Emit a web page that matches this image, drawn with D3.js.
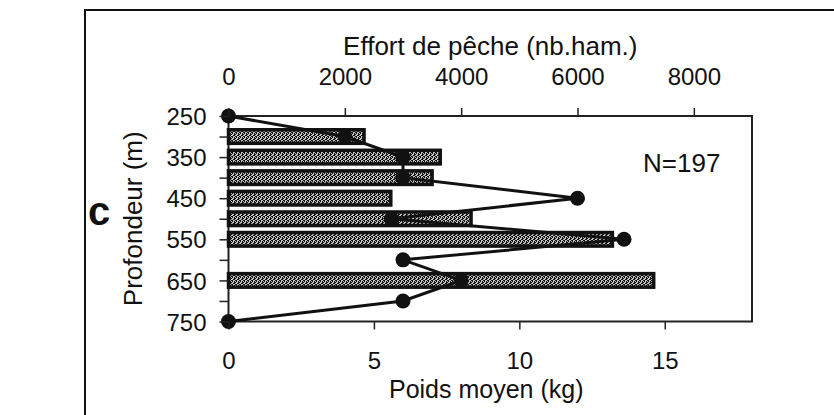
<!DOCTYPE html>
<html>
<head>
<meta charset="utf-8">
<script src="https://cdn.jsdelivr.net/npm/d3@7"></script>
<style>
  body { margin: 0; background: #fff; }
  svg { display: block; }
  text { font-family: "Liberation Sans", Arial, Helvetica, sans-serif; fill: #111; }
</style>
</head>
<body>
<div id="chart"></div>
<script>
// profondeurs (m) des barres d'effort
const effortDepths = [300, 350, 400, 450, 500, 550, 650];
// effort de peche (nb. hamecons)
const effort = [2330, 3640, 3500, 2790, 4170, 6600, 7310];
// profondeurs de la courbe de poids moyen
const weightDepths = [250, 300, 350, 400, 450, 500, 550, 600, 650, 700, 750];
// poids moyen (kg)
const weight = [0, 4.0, 6.0, 6.0, 12.0, 5.6, 13.6, 6.0, 8.0, 6.0, 0];

const effortTicks = [0, 2000, 4000, 6000, 8000];
const weightTicks = [0, 5, 10, 15];
const depthTicks = [250, 300, 350, 400, 450, 500, 550, 600, 650, 700, 750];
const depthLabels = [250, 350, 450, 550, 650, 750];

const width = 834;
const height = 415;
const plot = {left: 228.5, right: 752, top: 116, bottom: 321.5};

const svg = d3.select('#chart')
.append('svg')
.attr('width', width)
.attr('height', height);

// fond tramé des barres
const defs = svg.append('defs');
const pat = defs.append('pattern')
.attr('id', 'grain')
.attr('patternUnits', 'userSpaceOnUse')
.attr('width', 4)
.attr('height', 4);
pat.append('rect').attr('width', 4).attr('height', 4).attr('fill', '#c4c4c4');
[[0, 0, 1, 2], [2, 1, 1, 2], [1, 3, 2, 1], [3, 2, 1, 1], [3, 0, 1, 1]].forEach(p => {
    pat.append('rect')
    .attr('x', p[0]).attr('y', p[1])
    .attr('width', p[2]).attr('height', p[3])
    .attr('fill', '#111');
});

// cadre de la figure
svg.append('path')
.attr('d', `M85,415 L85,10 L834,10`)
.attr('fill', 'none')
.attr('stroke', '#111')
.attr('stroke-width', 2);

const scaleY = d3.scaleLinear()
.domain([250, 750])
.range([plot.top, plot.bottom]);

const scaleEffort = d3.scaleLinear()
.domain([0, 9000])
.range([plot.left, plot.right]);

const scaleWeight = d3.scaleLinear()
.domain([0, 18])
.range([plot.left, plot.right]);

const barH = (scaleY(300) - scaleY(250)) * 0.66;

// boite du graphique
svg.append('rect')
.attr('x', plot.left)
.attr('y', plot.top)
.attr('width', plot.right - plot.left)
.attr('height', plot.bottom - plot.top)
.attr('fill', 'none')
.attr('stroke', '#222')
.attr('stroke-width', 2);

// barres d'effort
svg.append('g')
.selectAll('rect')
.data(effortDepths)
.enter()
.append('rect')
.attr('x', scaleEffort(0))
.attr('y', d => scaleY(d) - barH / 2)
.attr('width', (d, i) => scaleEffort(effort[i]) - scaleEffort(0))
.attr('height', barH)
.attr('fill', 'url(#grain)')
.attr('stroke', '#111')
.attr('stroke-width', 3.5);

// courbe du poids moyen
const pts = weightDepths.map((d, i) => [scaleWeight(weight[i]), scaleY(d)]);

svg.append('path')
.attr('d', d3.line()(pts))
.attr('fill', 'none')
.attr('stroke', '#111')
.attr('stroke-width', 3);

svg.append('g')
.selectAll('circle')
.data(pts)
.enter()
.append('circle')
.attr('cx', d => d[0])
.attr('cy', d => d[1])
.attr('r', 7.5)
.attr('fill', '#111');

// axe du haut (effort)
const xTop = d3.axisTop(scaleEffort)
.tickValues(effortTicks)
.tickSize(8)
.tickFormat(d3.format('d'));

const gTop = svg.append('g')
.attr('transform', `translate(0, ${plot.top})`)
.call(xTop);

// axe du bas (poids)
const xBottom = d3.axisBottom(scaleWeight)
.tickValues(weightTicks)
.tickSize(8);

const gBottom = svg.append('g')
.attr('transform', `translate(0, ${plot.bottom})`)
.call(xBottom);

// axe de gauche (profondeur)
const yAxis = d3.axisLeft(scaleY)
.tickValues(depthTicks)
.tickSize(9)
.tickPadding(13)
.tickFormat(d => depthLabels.includes(d) ? d : '');

const gLeft = svg.append('g')
.attr('transform', `translate(${plot.left}, 0)`)
.call(yAxis);

[gTop, gBottom, gLeft].forEach(g => {
    g.select('.domain').remove();
    g.selectAll('line').attr('stroke', '#222').attr('stroke-width', 1.5);
    g.selectAll('text')
    .attr('font-family', null)
    .attr('font-size', 24)
    .attr('fill', '#111');
});
gTop.selectAll('text').attr('dy', null).attr('y', -31);
gBottom.selectAll('text').attr('dy', null).attr('y', 47.5);
gLeft.selectAll('text').attr('dy', '0.36em');

// titres
const midX = (plot.left + plot.right) / 2;

svg.append('text')
.attr('x', midX)
.attr('y', 55)
.attr('text-anchor', 'middle')
.attr('font-size', 26)
.text('Effort de pêche (nb.ham.)');

svg.append('text')
.attr('x', midX - 4)
.attr('y', 398)
.attr('text-anchor', 'middle')
.attr('font-size', 25)
.text('Poids moyen (kg)');

svg.append('text')
.attr('transform', `translate(142, ${(plot.top + plot.bottom) / 2}) rotate(-90)`)
.attr('text-anchor', 'middle')
.attr('font-size', 26)
.text('Profondeur (m)');

svg.append('text')
.attr('x', 643)
.attr('y', 172)
.attr('font-size', 26)
.text('N=197');

svg.append('text')
.attr('x', 99)
.attr('y', 225)
.attr('text-anchor', 'middle')
.attr('font-size', 40)
.attr('font-weight', 'bold')
.text('c');
</script>
</body>
</html>
